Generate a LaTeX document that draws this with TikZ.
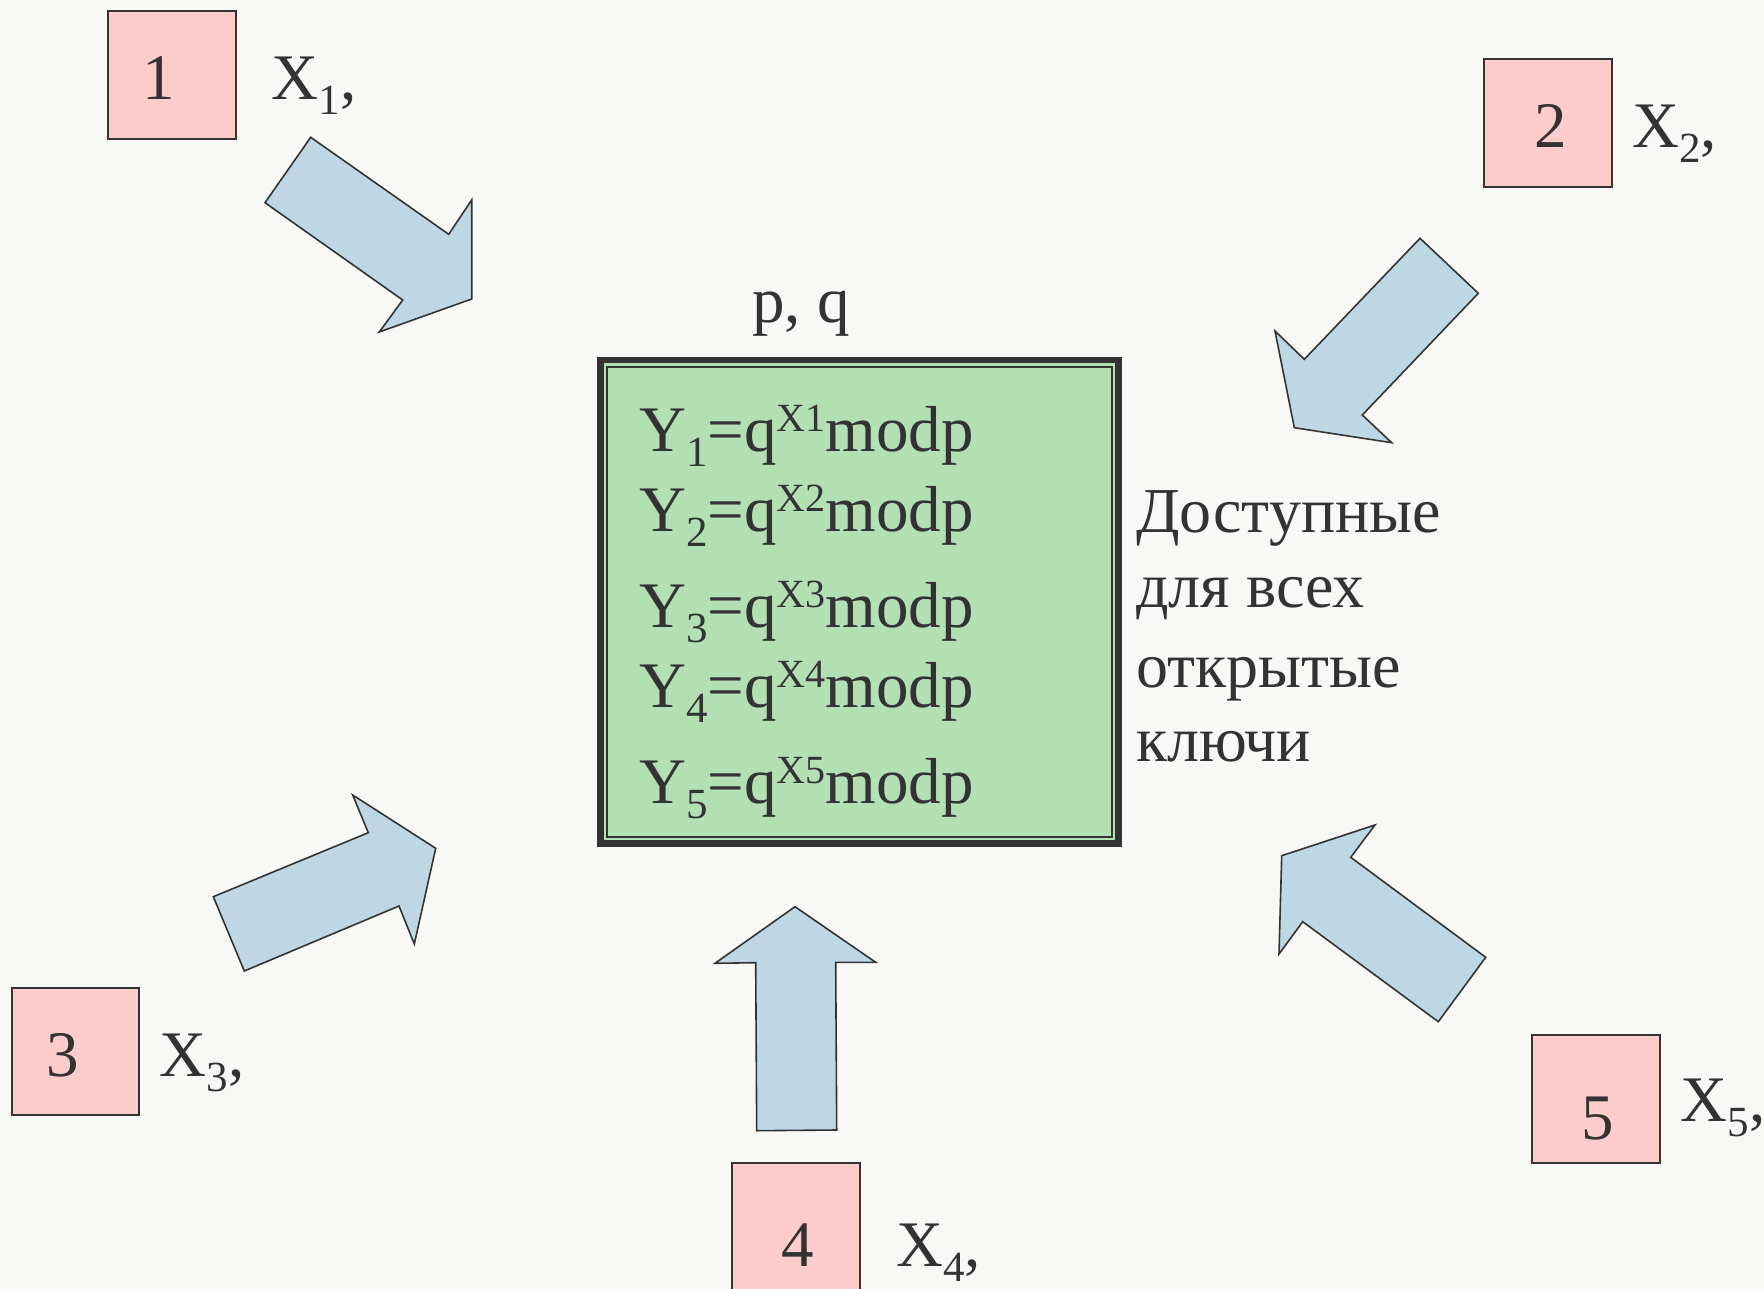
\documentclass[tikz,border=0pt]{standalone}
\usepackage{fontspec}
\setmainfont{Liberation Serif}
\definecolor{ink}{HTML}{333333}
\definecolor{bgc}{HTML}{F8F9F7}
\definecolor{pinkc}{HTML}{FFCCCC}
\definecolor{greenc}{HTML}{B3E0B3}
\definecolor{arrowc}{HTML}{BED7E4}
\newcommand\mysub[1]{\raisebox{-15pt}{\fontsize{43}{43}\selectfont #1}}
\newcommand\mysup[1]{\raisebox{20pt}{\fontsize{40}{40}\selectfont #1}}
\begin{document}
\begin{tikzpicture}[x=1pt,y=-1pt,
  txt/.style={inner sep=0pt, anchor=base west, text=ink, font=\fontsize{65}{78}\selectfont},
  cyr/.style={inner sep=0pt, anchor=base west, text=ink, font=\fontsize{64}{76}\selectfont},
  num/.style={inner sep=0pt, anchor=base, text=ink, font=\fontsize{65}{78}\selectfont},
  sq/.style={draw=ink, line width=2pt, fill=pinkc, minimum size=127.5pt, inner sep=0pt},
  arr/.style={draw=ink, line width=1.6pt, fill=arrowc, line join=miter}]
\fill[bgc] (0,0) rectangle (1764,1289);
\useasboundingbox (0,0) rectangle (1764,1289);

% arrows
\draw[arr] (310.7,137.3) -- (448.7,234.3) -- (471.7,200) -- (471.7,299) -- (379.3,332) -- (402.7,300) -- (265,202.7) -- cycle;
\draw[arr] (1420,238.3) -- (1478.3,293.3) -- (1362.3,415) -- (1391.7,442.7) -- (1294.3,427.7) -- (1275,331) -- (1304.3,359.3) -- cycle;
\draw[arr] (213.3,896.7) -- (368.3,832.7) -- (352.7,795) -- (435.7,848.3) -- (414.3,944) -- (399,906) -- (244.3,971) -- cycle;
\draw[arr] (795,906.7) -- (875.7,962.3) -- (835.7,962.3) -- (836.7,1130) -- (756.7,1130.7) -- (755.7,962.7) -- (715,963.3) -- cycle;
\draw[arr] (1375,825) -- (1350.7,857.3) -- (1485.7,957.3) -- (1438.3,1021.7) -- (1302.7,921.7) -- (1279,954) -- (1281.7,855.7) -- cycle;

% central box
\fill[greenc] (597.3,356.7) rectangle (1121.6,847);
\draw[ink, line width=6.7pt] (600.65,360.05) rectangle (1118.25,843.65);
\draw[ink, line width=2pt] (607.3,366.7) rectangle (1111.6,837);

% squares
\node[sq] (b1) at (172,74.85) {};
\node[sq] (b2) at (1548,123.2) {};
\node[sq] (b3) at (75.4,1051.3) {};
\node[sq] (b4) at (795.9,1227) {};
\node[sq] (b5) at (1595.9,1099.2) {};

\node[num] (n1) at (159,99.3) {1};
\node[num] (n2) at (1551,147.4) {2};
\node[num] (n3) at (62.4,1076.6) {3};
\node[num] (n4) at (798,1266.7) {4};
\node[num] (n5) at (1598,1139) {5};

\node[txt] (x1) at (271.7,99.3) {X\mysub{1},};
\node[txt] (x2) at (1632,147.4) {X\mysub{2},};
\node[txt] (x3) at (159.7,1076.6) {X\mysub{3},};
\node[txt] (x4) at (896,1266.7) {X\mysub{4},};
\node[txt] (x5) at (1680.7,1121.7) {X\mysub{5},};

\node[txt] (pq) at (752,323) {p, q};

\node[txt] (y1) at (639,451) {Y\mysub{1}=q\mysup{X1}modp};
\node[txt] (y2) at (639,531) {Y\mysub{2}=q\mysup{X2}modp};
\node[txt] (y3) at (639,627) {Y\mysub{3}=q\mysup{X3}modp};
\node[txt] (y4) at (639,707) {Y\mysub{4}=q\mysup{X4}modp};
\node[txt] (y5) at (639,803) {Y\mysub{5}=q\mysup{X5}modp};

\node[cyr] (t1) at (1136,532) {Доступные};
\node[cyr] (t2) at (1136,607) {для всех};
\node[cyr] (t3) at (1136,687) {открытые};
\node[cyr] (t4) at (1136,761) {ключи};
\end{tikzpicture}
\end{document}
